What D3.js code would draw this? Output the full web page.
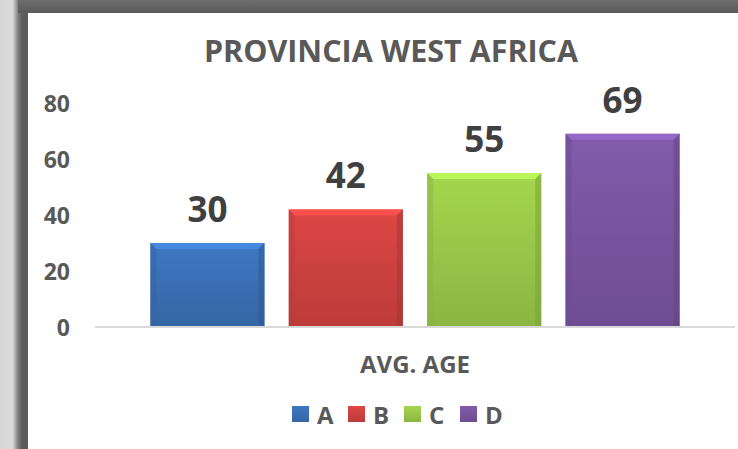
<!DOCTYPE html>
<html>
<head>
<meta charset="utf-8">
<script src="https://cdn.jsdelivr.net/npm/d3@7"></script>
<style>
  body { margin: 0; background: #fff; }
  svg { display: block; font-family: "Open Sans", "DejaVu Sans", sans-serif; }
</style>
</head>
<body>
<svg width="738" height="449"></svg>
<script>
// chart data
const categories = ["A", "B", "C", "D"];
const values = [30, 42, 55, 69];
const yTicks = [0, 20, 40, 60, 80];
const groupLabel = "AVG. AGE";
const title = "PROVINCIA WEST AFRICA";
const colors = ["#3b71b8", "#d14341", "#9bcb4a", "#7b56a2"];

const svg = d3.select("svg");
const width = +svg.attr("width");
const height = +svg.attr("height");
const defs = svg.append("defs");

// frame around the chart area
const sideGrad = defs.append("linearGradient").attr("id", "side")
  .attr("x1", 0).attr("x2", 1).attr("y1", 0).attr("y2", 0);
sideGrad.append("stop").attr("offset", "0%").attr("stop-color", "#d6d6d6");
sideGrad.append("stop").attr("offset", "45%").attr("stop-color", "#dcdcdc");
sideGrad.append("stop").attr("offset", "62%").attr("stop-color", "#8a8a8a");
sideGrad.append("stop").attr("offset", "78%").attr("stop-color", "#5c5c5c");
sideGrad.append("stop").attr("offset", "100%").attr("stop-color", "#5a5a5a");

const topGrad = defs.append("linearGradient").attr("id", "topband")
  .attr("x1", 0).attr("x2", 0).attr("y1", 0).attr("y2", 1);
topGrad.append("stop").attr("offset", "0%").attr("stop-color", "#6e6e6e");
topGrad.append("stop").attr("offset", "100%").attr("stop-color", "#5a5a5a");

svg.append("rect").attr("x", 0).attr("y", 0).attr("width", 28).attr("height", height)
  .attr("fill", "url(#side)");
svg.append("rect").attr("x", 18).attr("y", 0).attr("width", width - 18).attr("height", 13)
  .attr("fill", "url(#topband)");
svg.append("rect").attr("x", 28).attr("y", 13).attr("width", width - 28).attr("height", height - 13)
  .attr("fill", "#fff");

// scales
const y = d3.scaleLinear().domain([0, 80]).range([327, 103]);
const x = d3.scaleBand().domain(categories).range([95, 735])
  .paddingInner(0.175).paddingOuter(0.4);

// title
svg.append("text")
  .attr("x", 391).attr("y", 62)
  .attr("text-anchor", "middle")
  .attr("font-size", 30.5).attr("font-weight", 700)
  .attr("fill", "#595959")
  .text(title);

// y axis, labels only
const yAxis = svg.append("g")
  .attr("transform", "translate(95,0)")
  .call(d3.axisLeft(y).tickValues(yTicks).tickSize(0).tickPadding(25));
yAxis.select(".domain").remove();
yAxis.selectAll("text")
  .attr("font-size", 23).attr("font-weight", 700)
  .attr("font-family", "'Open Sans', sans-serif")
  .attr("fill", "#595959")
  .attr("dy", "0.36em");

// gradients for bars
categories.forEach((c, i) => {
  const base = d3.color(colors[i]);
  const g = defs.append("linearGradient").attr("id", "bar" + i)
    .attr("x1", 0).attr("x2", 0).attr("y1", 0).attr("y2", 1);
  g.append("stop").attr("offset", "0%").attr("stop-color", base.brighter(0.15));
  g.append("stop").attr("offset", "100%").attr("stop-color", base.darker(0.3));
});

// bars
const bars = svg.append("g").selectAll("g")
  .data(values)
  .join("g");

bars.append("rect")
  .attr("x", (d, i) => x(categories[i]))
  .attr("y", d => y(d))
  .attr("width", x.bandwidth())
  .attr("height", d => y(0) - y(d))
  .attr("fill", (d, i) => `url(#bar${i})`);

// bevel edges
const bev = 6;
bars.append("path")
  .attr("fill", (d, i) => d3.color(colors[i]).brighter(0.6))
  .attr("opacity", 0.85)
  .attr("d", (d, i) => {
    const x0 = x(categories[i]), x1 = x0 + x.bandwidth(), t = y(d);
    return `M${x0},${t}L${x1},${t}L${x1 - bev},${t + bev}L${x0 + bev},${t + bev}Z`;
  });
bars.append("path")
  .attr("fill", (d, i) => d3.color(colors[i]).darker(0.35))
  .attr("opacity", 0.5)
  .attr("d", (d, i) => {
    const x0 = x(categories[i]), t = y(d), b = y(0);
    return `M${x0},${t}L${x0 + bev},${t + bev}L${x0 + bev},${b}L${x0},${b}Z`;
  });
bars.append("path")
  .attr("fill", (d, i) => d3.color(colors[i]).darker(0.7))
  .attr("opacity", 0.5)
  .attr("d", (d, i) => {
    const x1 = x(categories[i]) + x.bandwidth(), t = y(d), b = y(0);
    return `M${x1},${t}L${x1 - bev},${t + bev}L${x1 - bev},${b}L${x1},${b}Z`;
  });

// baseline
svg.append("line")
  .attr("x1", 95).attr("x2", 735)
  .attr("y1", y(0)).attr("y2", y(0))
  .attr("stroke", "#d9d9d9").attr("stroke-width", 2);

// value labels
svg.append("g").selectAll("text")
  .data(values)
  .join("text")
  .attr("x", (d, i) => x(categories[i]) + x.bandwidth() / 2)
  .attr("y", d => y(d) - 21)
  .attr("text-anchor", "middle")
  .attr("font-size", 35).attr("font-weight", 700)
  .attr("fill", "#404040")
  .text(d => d);

// category label
svg.append("text")
  .attr("x", 415).attr("y", 373)
  .attr("text-anchor", "middle")
  .attr("font-size", 24).attr("font-weight", 700)
  .attr("fill", "#595959")
  .text(groupLabel);

// legend
const lx = d3.scaleBand().domain(categories).range([292, 516]);
const legend = svg.append("g").selectAll("g")
  .data(categories)
  .join("g")
  .attr("transform", d => `translate(${lx(d)},0)`);
legend.append("rect")
  .attr("x", 0).attr("y", 406).attr("width", 17).attr("height", 16)
  .attr("fill", (d, i) => `url(#bar${i})`);
legend.append("text")
  .attr("x", 25).attr("y", 424)
  .attr("font-size", 24).attr("font-weight", 700)
  .attr("fill", "#595959")
  .text(d => d);
</script>
</body>
</html>
